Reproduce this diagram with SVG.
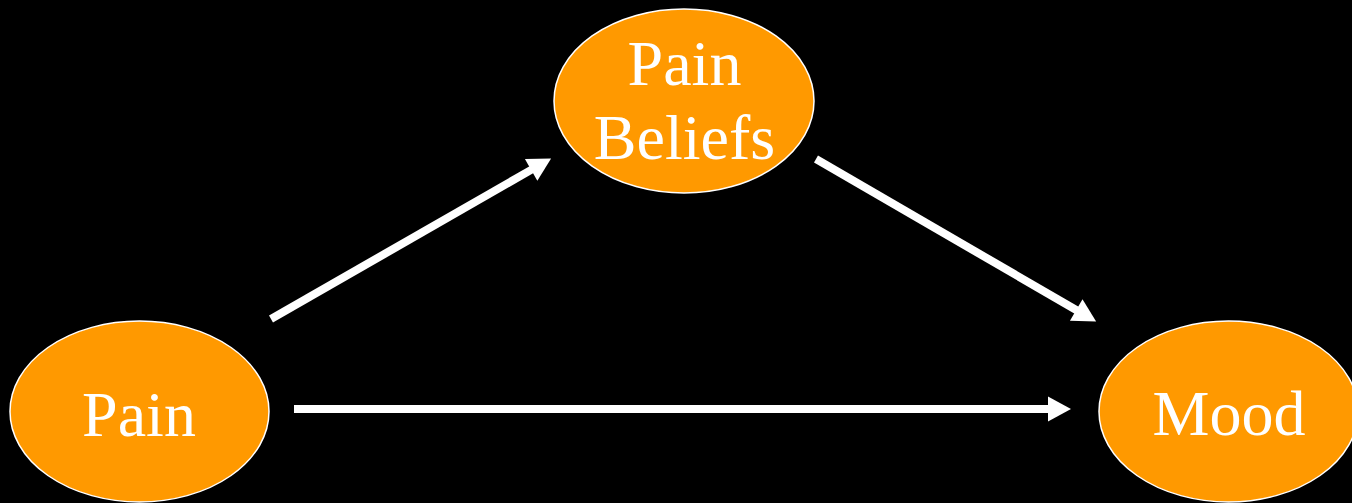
<svg xmlns="http://www.w3.org/2000/svg" width="1352" height="503" viewBox="0 0 1352 503">
<style>
.node ellipse{fill:#FF9900;stroke:#FFFFFF;stroke-width:1.5}
.node text{font-family:"Liberation Serif","Times New Roman",serif;font-size:64px;fill:#FFFFFF;text-anchor:middle}
.conn line{stroke:#FFFFFF;stroke-width:8;marker-end:url(#ah)}
</style>
<defs>
<marker id="ah" markerUnits="userSpaceOnUse" markerWidth="24" markerHeight="26" refX="1" refY="12.5" orient="auto" overflow="visible">
<path d="M0,0 L23,12.5 L0,25 z" fill="#FFFFFF"/>
</marker>
</defs>
<rect width="1352" height="503" fill="#000000"/>
<g id="connectors" class="conn">
<line x1="271" y1="319" x2="532" y2="169.4"/>
<line x1="816" y1="159" x2="1077.1" y2="310.5"/>
<line x1="294" y1="409" x2="1049" y2="409"/>
</g>
<g id="node-pain-beliefs" class="node">
<ellipse cx="684" cy="101" rx="130" ry="92"/>
<text x="684.5" y="85">Pain</text>
<text x="684.5" y="159">Beliefs</text>
</g>
<g id="node-pain" class="node">
<ellipse cx="139.5" cy="411.5" rx="129.5" ry="90.5"/>
<text x="139" y="436">Pain</text>
</g>
<g id="node-mood" class="node">
<ellipse cx="1228.5" cy="411.5" rx="129.5" ry="90.5"/>
<text x="1229" y="435">Mood</text>
</g>
</svg>
